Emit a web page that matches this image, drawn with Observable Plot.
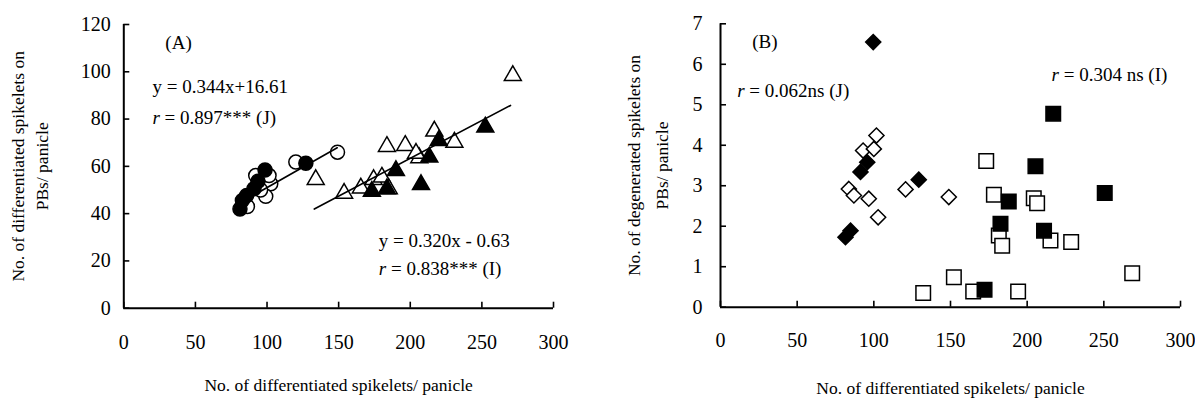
<!DOCTYPE html>
<html><head><meta charset="utf-8">
<script src="https://cdn.jsdelivr.net/npm/d3@7"></script>
<script src="https://cdn.jsdelivr.net/npm/@observablehq/plot@0.6"></script>
<style>
body{margin:0;background:#fff;}
#wrap{display:flex;width:1195px;height:400px;overflow:hidden;}
#wrap svg{display:block;}
</style></head><body><div id="wrap"></div>
<script>
// ---------- shared ticks ----------
const xTicks = [0, 50, 100, 150, 200, 250, 300];
const yTicksA = [0, 20, 40, 60, 80, 100, 120];
const yTicksB = [0, 1, 2, 3, 4, 5, 6, 7];

// ---------- Panel A : PBs differentiated spikelets ----------
const aJOpenX = [92.1, 102.6, 99.1, 101.4, 86.3, 120.1, 149.2, 95.5];
const aJOpenY = [56.1, 52.6, 47.3, 56.1, 43.0, 61.8, 66.0, 50.0];
const aJFilledX = [98.6, 93.7, 90.9, 85.8, 82.8, 81.1, 127.1];
const aJFilledY = [58.5, 53.7, 50.5, 47.7, 45.6, 42.0, 61.3];
const aIOpenX = [271.6, 134.0, 153.8, 165.5, 174.4, 180.2, 183.7, 196.5, 206.3, 216.8, 230.8, 185.0, 204.0];
const aIOpenY = [98.4, 54.4, 48.6, 50.8, 54.4, 55.4, 68.4, 68.8, 63.6, 74.9, 70.2, 50.5, 65.5];
const aIFilledX = [252.4, 219.9, 213.3, 190.0, 207.5, 173.2, 183.7];
const aIFilledY = [76.6, 70.9, 63.9, 58.2, 52.3, 49.4, 50.5];
// fitted lines (slope, intercept, x-range)
const fitJ = {slope: 0.344, intercept: 16.61, xRange: [80, 149]};
const fitI = {slope: 0.320, intercept: -0.63, xRange: [133, 270]};
const aNotes = ["(A)", "y = 0.344x+16.61", "r = 0.897*** (J)", "y = 0.320x - 0.63", "r = 0.838*** (I)"];
const aNoteX = [29, 20, 20, 178, 178];
const aNoteY = [112.4, 93.4, 80.7, 28.6, 16.8];

// ---------- Panel B : PBs degenerated spikelets ----------
const bJOpenX = [101.7, 93.0, 100.0, 83.7, 87.0, 96.7, 102.8, 120.7, 148.9];
const bJOpenY = [4.24, 3.87, 3.91, 2.92, 2.76, 2.68, 2.22, 2.91, 2.72];
const bJFilledX = [99.6, 95.7, 91.3, 129.3, 84.8, 81.5];
const bJFilledY = [6.55, 3.58, 3.34, 3.15, 1.89, 1.73];
const bIOpenX = [173.3, 178.3, 204.3, 206.5, 181.5, 183.7, 215.2, 228.7, 152.2, 268.5, 132.2, 164.8, 194.1];
const bIOpenY = [3.61, 2.78, 2.69, 2.57, 1.77, 1.52, 1.65, 1.61, 0.74, 0.84, 0.35, 0.39, 0.39];
const bIFilledX = [217.0, 205.4, 250.6, 188.0, 182.6, 211.0, 172.2];
const bIFilledY = [4.78, 3.48, 2.82, 2.61, 2.06, 1.89, 0.43];
const bNotes = ["(B)", "r = 0.062ns (J)", "r = 0.304 ns (I)"];
const bNoteX = [20.7, 10.9, 215.9];
const bNoteY = [6.55, 5.34, 5.75];

const xTitle = "No. of differentiated spikelets/ panicle";
const aYTitle = ["No. of differentiated spikelets on", "PBs/ panicle"];
const bYTitle = ["No. of degenerated spikelets on", "PBs/ panicle"];

// ---------- helpers ----------
const rows = (xs, ys) => xs.map((x, i) => ({x, y: ys[i]}));
const fitRows = f => f.xRange.map(x => ({x, y: f.slope * x + f.intercept}));
const FONT = "'Liberation Serif','Times New Roman',serif";
const TICK_FS = 20, NOTE_FS = 19, TITLE_FS = 17.5;

function axes(yTicks, yPad, xPad) {
  return [
    Plot.ruleX([0], {strokeWidth: 2}),
    Plot.ruleY([0], {strokeWidth: 2}),
    Plot.axisX(xTicks, {tickSize: -6, strokeWidth: 1.6, tickFormat: () => "", label: null}),
    Plot.axisY(yTicks, {tickSize: -6, strokeWidth: 1.6, tickFormat: () => "", label: null}),
    Plot.text(xTicks, {x: d => d, text: d => String(d), frameAnchor: "bottom", dy: xPad, lineAnchor: "middle", textAnchor: "middle", fontSize: TICK_FS, fill: "black"}),
    Plot.text(yTicks, {y: d => d, text: d => String(d), frameAnchor: "left", dx: -yPad, lineAnchor: "middle", textAnchor: "end", fontSize: TICK_FS, fill: "black"})
  ];
}
function notes(labels, xs, ys) {
  return Plot.text(labels.map((t, i) => ({t, x: xs[i], y: ys[i]})),
    {x: "x", y: "y", text: "t", textAnchor: "start", lineAnchor: "middle", fontSize: NOTE_FS, fill: "black"});
}
function yTitle(lines, dx1, dx2) {
  return [
    Plot.text([lines[0]], {frameAnchor: "left", rotate: -90, dx: dx1, fontSize: TITLE_FS, textAnchor: "middle", lineAnchor: "middle", fill: "black"}),
    Plot.text([lines[1]], {frameAnchor: "left", rotate: -90, dx: dx2, fontSize: TITLE_FS, textAnchor: "middle", lineAnchor: "middle", fill: "black"})
  ];
}
function finish(svg) {
  svg.querySelectorAll("text").forEach(t => {
    if (t.childElementCount === 0 && t.textContent.startsWith("r =")) {
      const rest = t.textContent.slice(1);
      t.textContent = "";
      const s = document.createElementNS("http://www.w3.org/2000/svg", "tspan");
      s.setAttribute("font-style", "italic");
      s.textContent = "r";
      t.appendChild(s);
      t.appendChild(document.createTextNode(rest));
    }
  });
}

const chartA = Plot.plot({
  width: 597, height: 400,
  marginLeft: 123.3, marginRight: 44, marginTop: 24, marginBottom: 92.3,
  style: {fontFamily: FONT, fontSize: "19px", color: "black", background: "white"},
  x: {domain: [0, 300], label: null},
  y: {domain: [0, 120], label: null},
  marks: [
    ...axes(yTicksA, 13, 34),
    Plot.dot(rows(aJOpenX, aJOpenY), {x: "x", y: "y", symbol: "circle", r: 7, fill: "white", stroke: "black", strokeWidth: 1.5}),
    Plot.dot(rows(aJFilledX, aJFilledY), {x: "x", y: "y", symbol: "circle", r: 7, fill: "black", stroke: "black", strokeWidth: 1.5}),
    Plot.dot(rows(aIOpenX, aIOpenY), {x: "x", y: "y", symbol: "triangle", r: 6.3, fill: "white", stroke: "black", strokeWidth: 1.5}),
    Plot.dot(rows(aIFilledX, aIFilledY), {x: "x", y: "y", symbol: "triangle", r: 6.3, fill: "black", stroke: "black", strokeWidth: 1.5}),
    Plot.line(fitRows(fitJ), {x: "x", y: "y", stroke: "black", strokeWidth: 1.6}),
    Plot.line(fitRows(fitI), {x: "x", y: "y", stroke: "black", strokeWidth: 1.6}),
    notes(aNotes, aNoteX, aNoteY),
    ...yTitle(aYTitle, -105, -81),
    Plot.text([xTitle], {frameAnchor: "bottom", dy: 77.3, fontSize: TITLE_FS, lineAnchor: "middle", fill: "black"})
  ]
});

const chartB = Plot.plot({
  width: 598, height: 400,
  marginLeft: 123, marginRight: 15, marginTop: 23.3, marginBottom: 93.3,
  style: {fontFamily: FONT, fontSize: "19px", color: "black", background: "white"},
  x: {domain: [0, 300], label: null},
  y: {domain: [0, 7], label: null},
  marks: [
    ...axes(yTicksB, 18, 33.3),
    Plot.dot(rows(bJOpenX, bJOpenY), {x: "x", y: "y", symbol: "diamond2", r: 6.8, fill: "white", stroke: "black", strokeWidth: 1.5}),
    Plot.dot(rows(bJFilledX, bJFilledY), {x: "x", y: "y", symbol: "diamond2", r: 6.8, fill: "black", stroke: "black", strokeWidth: 1.5}),
    Plot.dot(rows(bIOpenX, bIOpenY), {x: "x", y: "y", symbol: "square", r: 8.2, fill: "white", stroke: "black", strokeWidth: 1.5}),
    Plot.dot(rows(bIFilledX, bIFilledY), {x: "x", y: "y", symbol: "square", r: 8.2, fill: "black", stroke: "black", strokeWidth: 1.5}),
    notes(bNotes, bNoteX, bNoteY),
    ...yTitle(bYTitle, -86, -58),
    Plot.text([xTitle], {frameAnchor: "bottom", dy: 81.3, fontSize: TITLE_FS, lineAnchor: "middle", fill: "black"})
  ]
});

finish(chartA);
finish(chartB);
const wrap = document.getElementById("wrap");
wrap.appendChild(chartA);
wrap.appendChild(chartB);
</script>
</body></html>
